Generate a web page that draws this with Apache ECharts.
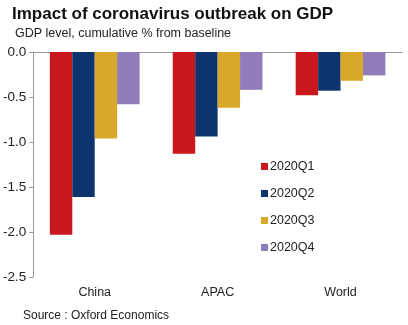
<!DOCTYPE html>
<html>
<head>
<meta charset="utf-8">
<script src="https://cdn.jsdelivr.net/npm/echarts@6/dist/echarts.min.js"></script>
<style>html,body{margin:0;padding:0;background:#fff;}#c{width:408px;height:325px;}</style>
</head>
<body>
<div id="c"></div>
<script>
const categories = ['China', 'APAC', 'World'];
const seriesNames = ['2020Q1', '2020Q2', '2020Q3', '2020Q4'];
const q1 = [-2.03, -1.13, -0.48];
const q2 = [-1.61, -0.94, -0.43];
const q3 = [-0.96, -0.62, -0.32];
const q4 = [-0.58, -0.42, -0.26];
const yTicks = [0, -0.5, -1.0, -1.5, -2.0, -2.5];
const colors = ['#C8171E', '#0E3470', '#D8A82B', '#8F7CB8'];

const chart = echarts.init(document.getElementById('c'));
const FONT = '"Liberation Sans", Arial, sans-serif';
const allData = [q1, q2, q3, q4];
chart.setOption({
  animation: false,
  textStyle: { fontFamily: FONT },
  title: [
    { text: 'Impact of coronavirus outbreak on GDP', left: 7, top: 1,
      textStyle: { fontSize: 17, fontWeight: 'bold', color: '#111', fontFamily: FONT } },
    { text: 'GDP level, cumulative % from baseline', left: 10, top: 22,
      textStyle: { fontSize: 12.5, fontWeight: 'normal', color: '#222', fontFamily: FONT } },
    { text: 'Source : Oxford Economics', left: 18, top: 305,
      textStyle: { fontSize: 12, fontWeight: 'normal', color: '#222', fontFamily: FONT } }
  ],
  legend: {
    orient: 'vertical', left: 256, top: 155, itemWidth: 7, itemHeight: 7, itemGap: 14,
    icon: 'rect', data: seriesNames,
    textStyle: { fontSize: 12.5, color: '#222', fontFamily: FONT, padding: [0, 0, 0, -3] }
  },
  grid: { left: 33, right: 6, top: 52, bottom: 48, containLabel: false },
  xAxis: [
    { type: 'category', data: categories, position: 'bottom',
      axisLine: { show: false, onZero: false }, axisTick: { show: false },
      axisLabel: { margin: 9, fontSize: 12.5, color: '#222', fontFamily: FONT } },
    { type: 'category', data: categories, position: 'top',
      axisLine: { show: true, lineStyle: { color: '#999', width: 1 } },
      axisTick: { show: false }, axisLabel: { show: false } }
  ],
  yAxis: {
    type: 'value', min: -2.5, max: 0, interval: 0.5,
    axisLine: { show: true, lineStyle: { color: '#999' } },
    axisTick: { show: true, length: 4, lineStyle: { color: '#999' } },
    splitLine: { show: false },
    axisLabel: { margin: 7, fontSize: 13.5, color: '#222', fontFamily: FONT,
      formatter: v => v.toFixed(1) }
  },
  series: seriesNames.map((n, i) => ({
    name: n, type: 'bar', data: allData[i], xAxisIndex: 0,
    barGap: '0%', barCategoryGap: '27%',
    itemStyle: { color: colors[i] }
  }))
});
</script>
</body>
</html>
